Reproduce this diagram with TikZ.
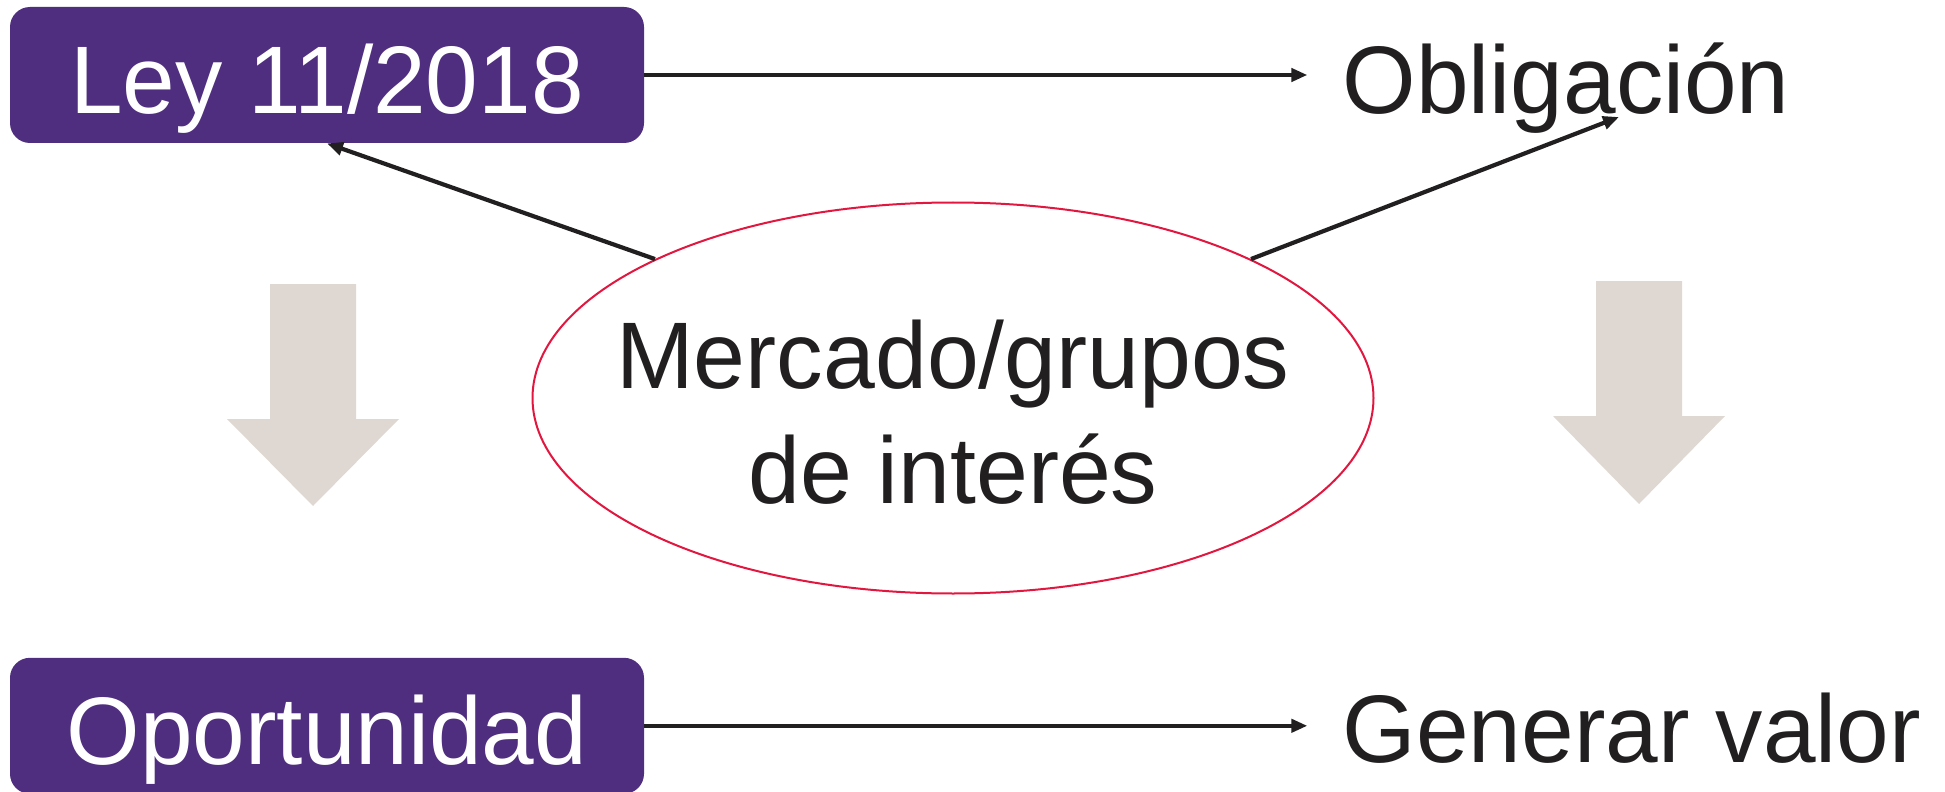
\documentclass[tikz,border=0pt]{standalone}
\usepackage{fontspec}
\setmainfont[FakeStretch=0.985]{Liberation Sans}
\usepackage{tikz}
\usetikzlibrary{positioning,arrows.meta,shapes.geometric}
\definecolor{colorbox}   {RGB}{ 79, 46,127}
\definecolor{colorring}  {RGB}{226, 23, 63}
\definecolor{colorblock} {RGB}{223,216,210}
\definecolor{colortext}  {RGB}{ 33, 31, 32}

\begin{document}
\begin{tikzpicture}[
    x=0.5pt, y=-0.5pt,
    font={\fontsize{48pt}{58pt}\selectfont},
    base/.style={fill=colorbox,text=white,rounded corners=10pt,
        minimum width=317pt,minimum height=68pt,inner sep=0pt,
        text height=38.4pt,text depth=0pt},
    baseword/.style={text=colortext,inner sep=0pt,text height=34.4pt,text depth=0pt},
    conn/.style={-{Triangle[length=8pt,width=6.5pt]},line width=2.1pt,draw=colortext},
    bigarrow/.style={fill=colorblock},
]
    \useasboundingbox (0,0) rectangle (1945,792);

    \node[base]                      (ley) at (327,75) {Ley 11/2018};
    \node[base,below=257pt of ley]   (opp)             {Oportunidad};

    \node[baseword,right=349pt of ley,yshift=-2.2pt]  (obl) {Obligación};
    \node[baseword,right=349pt of opp,yshift=-1.25pt] (gen) {Generar valor};

    \node[ellipse,draw=colorring,line width=1pt,inner sep=0pt,
          minimum width=420.5pt,minimum height=195.5pt,
          label={[text=colortext,align=center,yshift=-7pt,
                  font={\fontsize{47.3pt}{57.5pt}\selectfont}]center:Mercado/grupos\\de interés}]
          (merc) at (953,398) {};

    \coordinate (oblfoot) at (1619,117);

    \draw[conn](ley.east) -- ([xshift=-17.5pt]ley.east -| obl.west);
    \draw[conn](opp) -- ([xshift=-17.5pt]opp -| gen.west);

    \draw[conn](merc.north west) -- (ley.south);
    \draw[conn](merc.north east) -- (oblfoot);

    \fill[bigarrow] (270,284) -- (356,284) -- (356,419) -- (399,419)
        -- (313,506) -- (227,419) -- (270,419) -- cycle;
    \fill[bigarrow] (1596,281) -- (1682,281) -- (1682,416) -- (1725,416)
        -- (1639,504) -- (1553,416) -- (1596,416) -- cycle;

\end{tikzpicture}
\end{document}
